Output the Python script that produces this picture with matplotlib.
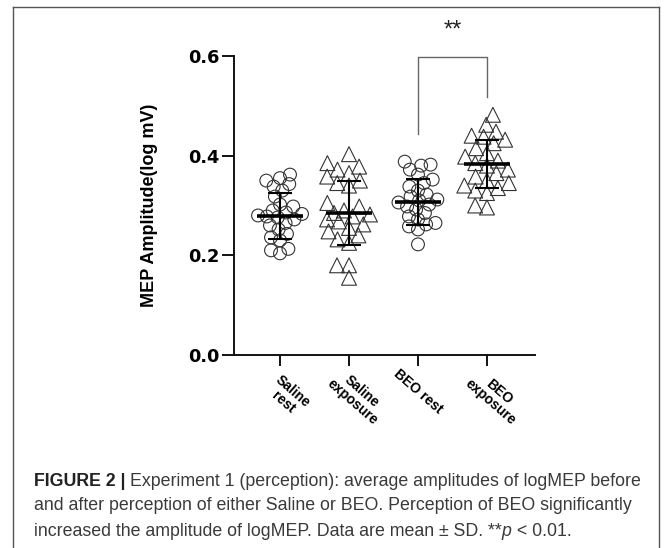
import numpy as np
import matplotlib
matplotlib.use("Agg")
import matplotlib.pyplot as plt
from matplotlib.lines import Line2D
from matplotlib.transforms import ScaledTranslation

plt.rcParams['font.family'] = ['Liberation Sans', 'DejaVu Sans']

# ---------------- data ----------------
categories = ["Saline\nrest", "Saline\nexposure", "BEO rest", "BEO\nexposure"]
saline_rest = [0.362, 0.355, 0.350, 0.343, 0.338, 0.330, 0.318, 0.302, 0.298, 0.290,
               0.286, 0.283, 0.280, 0.278, 0.276, 0.272, 0.265, 0.260, 0.252, 0.243,
               0.236, 0.230, 0.213, 0.210, 0.204]
saline_exposure = [0.403, 0.385, 0.378, 0.372, 0.365, 0.358, 0.350, 0.345, 0.340, 0.305,
                   0.298, 0.290, 0.285, 0.282, 0.278, 0.272, 0.268, 0.262, 0.255, 0.248,
                   0.240, 0.232, 0.225, 0.180, 0.180, 0.155]
beo_rest = [0.388, 0.382, 0.380, 0.372, 0.362, 0.352, 0.345, 0.338, 0.330, 0.322,
            0.318, 0.312, 0.310, 0.306, 0.302, 0.298, 0.292, 0.285, 0.278, 0.272,
            0.265, 0.262, 0.258, 0.252, 0.222]
beo_exposure = [0.482, 0.462, 0.448, 0.440, 0.438, 0.432, 0.425, 0.415, 0.405, 0.398,
                0.390, 0.385, 0.380, 0.372, 0.365, 0.358, 0.350, 0.345, 0.340, 0.335,
                0.330, 0.325, 0.300, 0.296]
groups = [saline_rest, saline_exposure, beo_rest, beo_exposure]
means = [0.279, 0.285, 0.307, 0.384]
sds = [0.046, 0.064, 0.046, 0.048]
markers = ['o', '^', 'o', '^']
yticks = [0.0, 0.2, 0.4, 0.6]
ytick_labels = ["0.0", "0.2", "0.4", "0.6"]
ylabel = "MEP Amplitude(log mV)"
sig_pair = (2, 3)
sig_text = "**"
sig_heights = [0.443, 0.598, 0.598, 0.517]
caption_lines = [
    "Experiment 1 (perception): average amplitudes of logMEP before",
    "and after perception of either Saline or BEO. Perception of BEO significantly",
    "increased the amplitude of logMEP. Data are mean \u00b1 SD. **",
]

# ---------------- figure ----------------
W, H = 672, 548
fig = plt.figure(figsize=(W / 100, H / 100), dpi=100)
fig.patch.set_facecolor('white')

ax_l, ax_r, ax_b, ax_t = 234, 535, 355, 56
ax = fig.add_axes([ax_l / W, (H - ax_b) / H, (ax_r - ax_l) / W, (ax_b - ax_t) / H])
xmin, xmax = -0.667, 3.696
ax.set_xlim(xmin, xmax)
ax.set_ylim(0, 0.6)

px_per_x = (ax_r - ax_l) / (xmax - xmin)
px_per_y = (ax_b - ax_t) / 0.6


def swarm(vals, D, cap):
    ys = np.array(vals) * px_per_y
    order = np.argsort(ys)
    placed = []
    xs = np.zeros(len(vals))
    for idx in order:
        y = ys[idx]
        cands = [0.0]
        for (px, py) in placed:
            dy = abs(py - y)
            if dy < D:
                dx = np.sqrt(D * D - dy * dy)
                cands += [px + dx, px - dx]
        cands = [c for c in cands if abs(c) <= cap]
        cands.sort(key=lambda c: (abs(c), c))
        chosen = None
        for c in cands:
            if all((px - c) ** 2 + (py - y) ** 2 >= D * D - 1e-6 for (px, py) in placed):
                chosen = c
                break
        if chosen is None:
            grid = np.linspace(-cap, cap, 49)
            best = -1
            for c in grid:
                dmin = min(((px - c) ** 2 + (py - y) ** 2 for (px, py) in placed),
                           default=1e9)
                if dmin > best + 1e-9:
                    best, chosen = dmin, c
        xs[idx] = chosen
        placed.append((chosen, y))
    return xs / px_per_x


for i, vals in enumerate(groups):
    if markers[i] == 'o':
        offs = swarm(vals, 9.5, 22)
        size = 85
    else:
        offs = swarm(vals, 12.0, 24)
        size = 115
    ax.scatter(i + offs, vals, marker=markers[i], s=size, facecolors='none',
               edgecolors='#333333', linewidths=0.8, zorder=2)
    ax.errorbar(i, means[i], yerr=sds[i], fmt='none', ecolor='black',
                elinewidth=1.5, capsize=8.5, capthick=1.5, zorder=3)
    ax.plot([i - 0.33, i + 0.33], [means[i], means[i]], color='black',
            lw=2.6, solid_capstyle='butt', zorder=4)

# significance bracket
a, b = sig_pair
ax.plot([a, a, b, b], sig_heights, color='#666666', lw=1.0, clip_on=False, zorder=1)
ax.text((a + b) / 2, 0.652, sig_text, ha='center', va='center', fontsize=17,
        color='#222222', clip_on=False)

# axes styling
for s in ['top', 'right']:
    ax.spines[s].set_visible(False)
for s in ['left', 'bottom']:
    ax.spines[s].set_linewidth(1.4)
    ax.spines[s].set_color('#111111')
ax.set_yticks(yticks)
ax.set_yticklabels(ytick_labels, fontsize=12.8, fontweight='bold',
                   family=['DejaVu Sans'])
ax.tick_params(axis='y', length=8.5, width=1.4, pad=2, color='#111111')
ax.set_xticks(range(len(categories)))
ax.set_xticklabels([])
ax.tick_params(axis='x', length=8, width=1.4, color='#111111')
ax.set_ylabel(ylabel, fontsize=13, fontweight='bold')
ax.yaxis.label.set_va('center')
ax.yaxis.set_label_coords((150 - ax_l) / (ax_r - ax_l), 0.5)

# rotated category labels
xtrans = ax.get_xaxis_transform()
for i, lab in enumerate(categories):
    multi = '\n' in lab
    dx = 8 if multi else 0
    dy = -42 if multi else -37
    tr = xtrans + ScaledTranslation(dx / 100, dy / 100, fig.dpi_scale_trans)
    ax.text(i, 0, lab, transform=tr, rotation=-41, rotation_mode='anchor',
            ha='center', va='center', multialignment='center',
            fontsize=10, fontweight='bold', linespacing=1.0)

# border box
bc = '#555555'
fig.add_artist(Line2D([13 / W, 13 / W], [0, 1 - 7 / H], color=bc, lw=1.0,
                      transform=fig.transFigure))
fig.add_artist(Line2D([659 / W, 659 / W], [0, 1 - 7 / H], color=bc, lw=1.0,
                      transform=fig.transFigure))
fig.add_artist(Line2D([13 / W, 659 / W], [1 - 7 / H, 1 - 7 / H], color=bc, lw=1.0,
                      transform=fig.transFigure))

# caption
renderer = fig.canvas.get_renderer()
cap_color = '#3a3a3a'
x0 = 34 / W
line_y = [481, 506, 532]

# choose caption size so that the first line spans the same width as the reference
probe = fig.text(0, 0, "FIGURE 2 | " + caption_lines[0], fontsize=10)
w10 = probe.get_window_extent(renderer=renderer).width
probe.remove()
cfs = 10 * 611 / w10


def put(x, ypx, s, **kw):
    t = fig.text(x, 1 - ypx / H, s, va='center', ha='left', fontsize=cfs, **kw)
    bb = t.get_window_extent(renderer=renderer)
    return x + bb.width / W


x = put(x0, line_y[0], "FIGURE 2 |", fontweight='bold', color='#222222')
put(x + 4 / W, line_y[0], caption_lines[0], color=cap_color)
put(x0, line_y[1], caption_lines[1], color=cap_color)
x = put(x0, line_y[2], caption_lines[2], color=cap_color)
x = put(x, line_y[2], "p", style='italic', color=cap_color)
put(x, line_y[2], " < 0.01.", color=cap_color)

fig.savefig("out.png", dpi=100, facecolor='white')
